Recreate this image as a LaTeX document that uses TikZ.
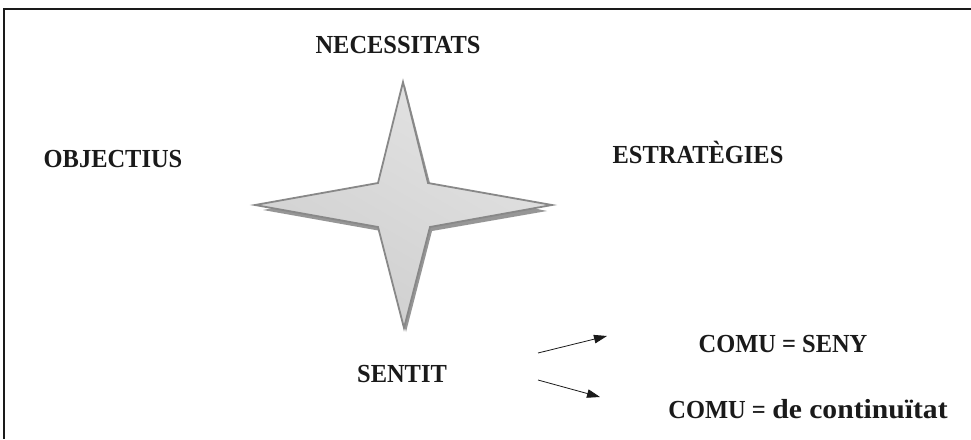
\documentclass[tikz,border=0pt]{standalone}
\usepackage{fontspec}
\setmainfont{Liberation Serif}
\usetikzlibrary{arrows.meta}
\definecolor{starline}{RGB}{136,136,136}
\definecolor{starshade}{RGB}{150,150,150}
\definecolor{inkcol}{RGB}{26,26,26}
% condensed capitals and widened lowercase, as set in the heading face
\newcommand\capsfit[1]{\scalebox{0.94}[1]{#1}}
\newcommand\lowfit[1]{\scalebox{1.14}[1.06]{#1}}
\tikzset{
  label/.style={font=\fontsize{26}{30}\selectfont\bfseries, text=inkcol,
                inner sep=0pt, anchor=base},
  pointer/.style={draw=inkcol, line width=0.8pt, -{Triangle[length=13pt,width=8.5pt]}},
  framing/.style={draw=inkcol, line width=1.3pt}
}
\begin{document}
\begin{tikzpicture}[x=1pt,y=-1pt]
  \useasboundingbox (0,0) rectangle (971,439);
  \fill[white] (0,0) rectangle (971,439);
  % open frame: top and left edges
  \draw[framing] (971,9) -- (4,9) -- (4,439);

  % lower bevel of the four-pointed star
  \fill[starshade] (405,86) -- (431,187) -- (547,211) -- (432,231) -- (406,332)
    -- (381,231) -- (263,210) -- (380,187) -- cycle;
  % the star itself
  \path[draw=starline, line width=1.8pt, line join=miter,
        top color=gray!22, bottom color=gray!38, shading angle=-30]
    (403,82) -- (428,183) -- (552,205) -- (430,227) -- (404,328)
    -- (378,227) -- (255,205) -- (378,183) -- cycle;

  % labels around the star (placed on their baselines)
  \node[label] (nec) at (398,53) {\capsfit{NECESSITATS}};
  \node[label] (obj) at (113,167) {\capsfit{OBJECTIUS}};
  \node[label] (est) at (698,163) {\capsfit{ESTRATÈGIES}};
  \node[label] (sen) at (402,382) {\capsfit{SENTIT}};
  \node[label] (seny) at (783,352) {\capsfit{COMU = SENY}};
  \node[label] (cont) at (808,418) {\capsfit{COMU =} \lowfit{de continuïtat}};

  % pointers from SENTIT
  \coordinate (a1s) at (538,353);
  \coordinate (a1e) at (607,336);
  \coordinate (a2s) at (538,380);
  \coordinate (a2e) at (600,397);
  \draw[pointer] (a1s) -- (a1e);
  \draw[pointer] (a2s) -- (a2e);
\end{tikzpicture}
\end{document}
